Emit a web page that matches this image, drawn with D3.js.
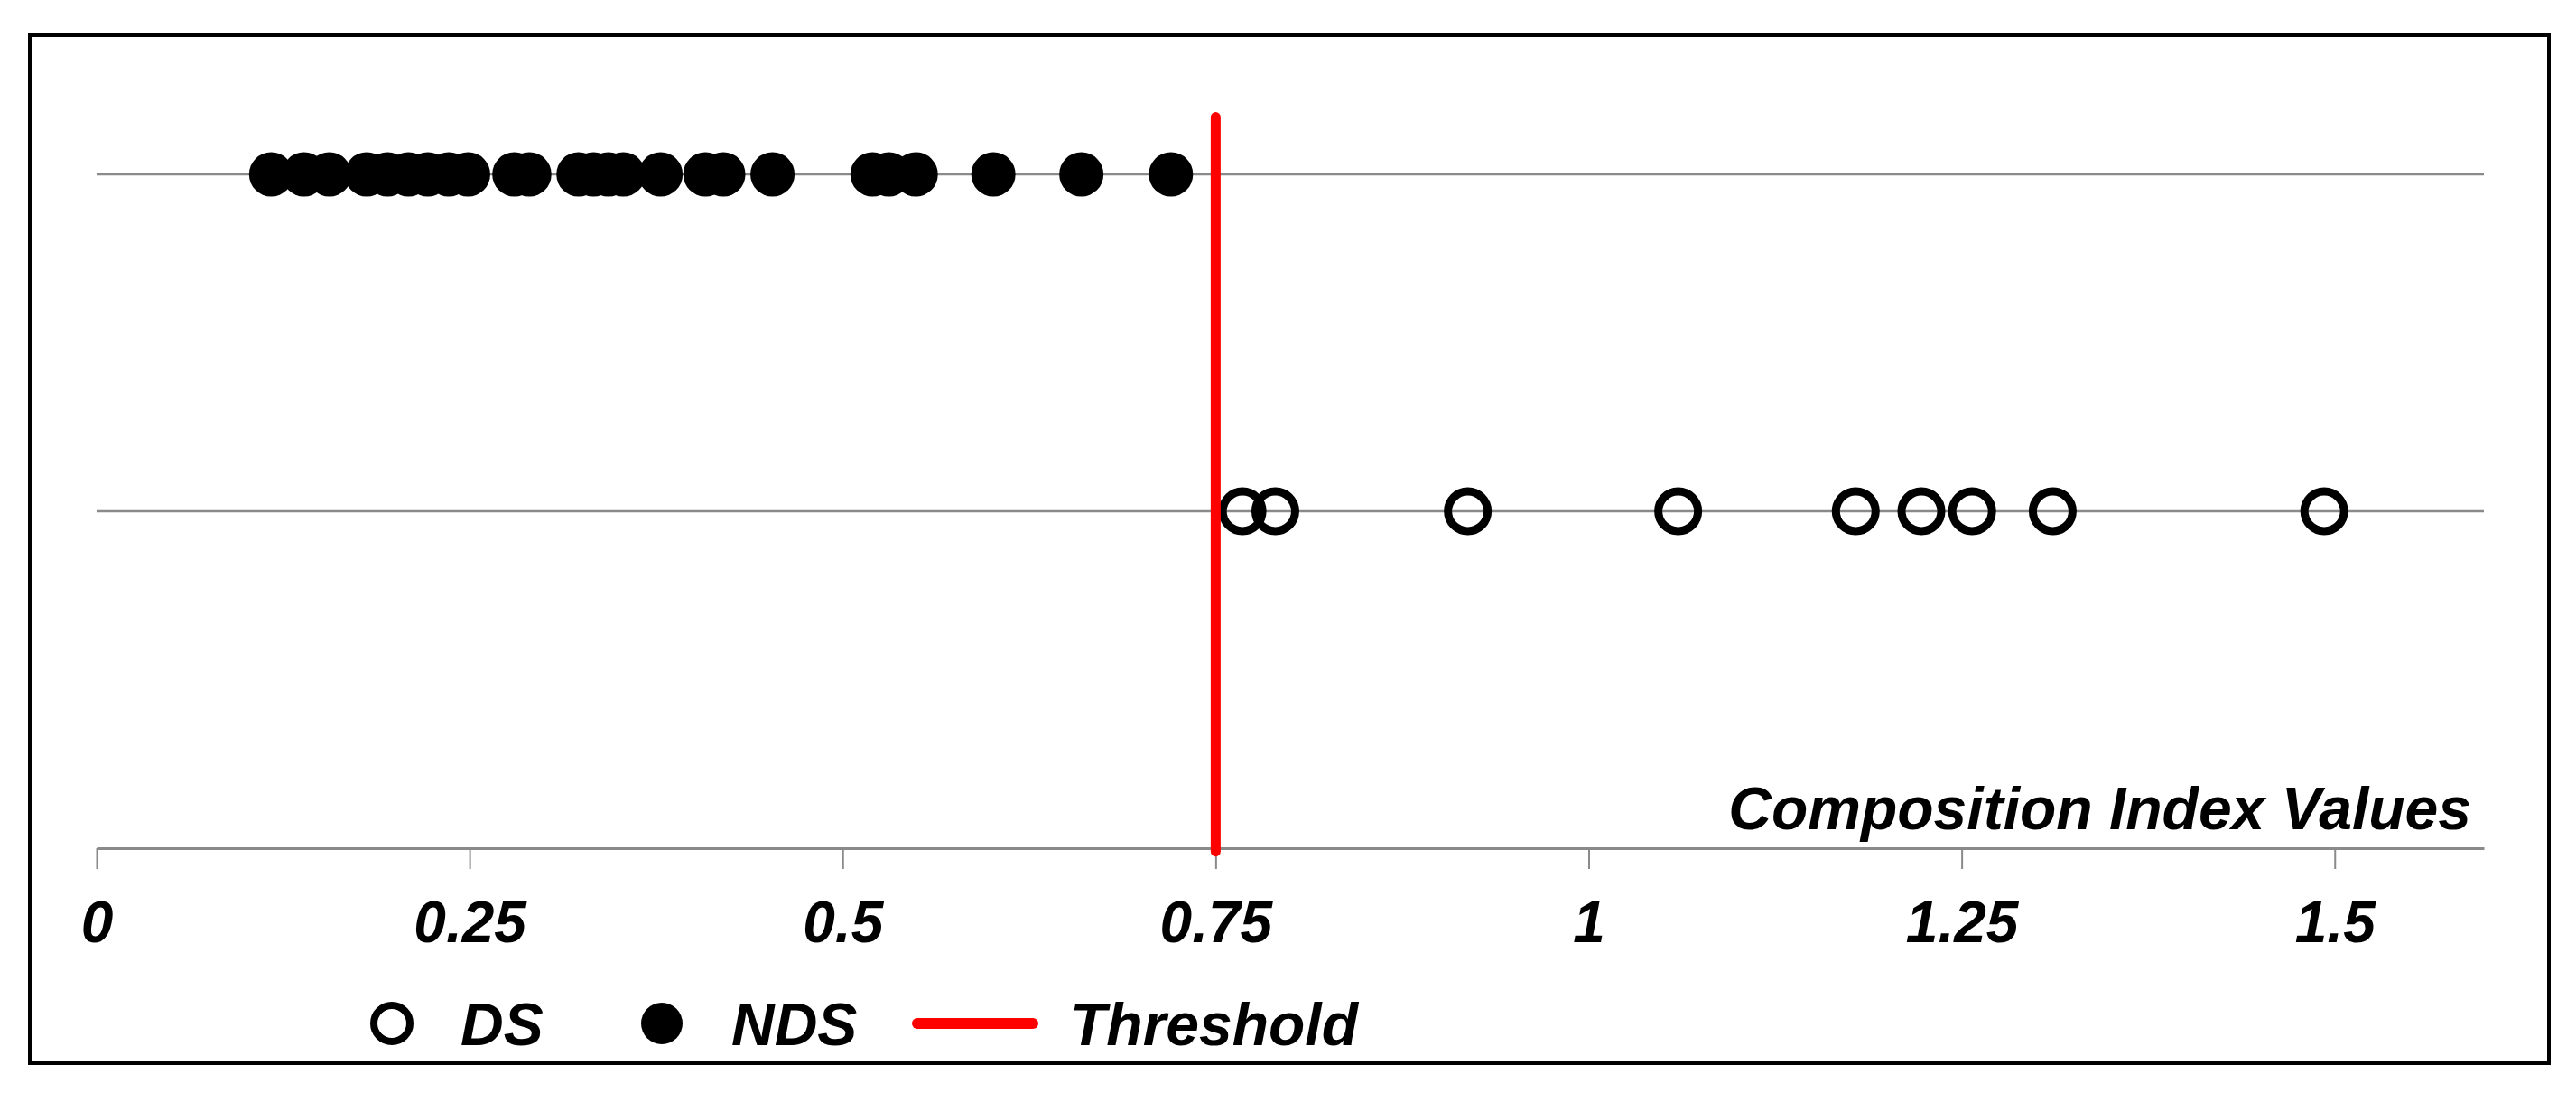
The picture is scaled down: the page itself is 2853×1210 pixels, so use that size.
<!DOCTYPE html>
<html>
<head>
<meta charset="utf-8">
<script src="https://cdn.jsdelivr.net/npm/d3@7"></script>
<style>
  html, body { margin: 0; padding: 0; background: #fff; }
  svg { display: block; }
  text { font-family: "Liberation Sans", Arial, Helvetica, sans-serif; font-weight: bold; font-style: italic; fill: #000; }
</style>
</head>
<body>
<svg id="chart" width="2853" height="1210"></svg>
<script>
// ---- data ----
const ndsValues = [0.117, 0.139, 0.156, 0.181, 0.195, 0.209, 0.222, 0.236, 0.249,
                   0.280, 0.290, 0.323, 0.333, 0.343, 0.353, 0.378, 0.408, 0.420,
                   0.453, 0.520, 0.531, 0.549, 0.601, 0.660, 0.720];
const dsValues = [0.768, 0.790, 0.919, 1.060, 1.179, 1.223, 1.257, 1.311, 1.493];
const thresholdValue = 0.75;
const seriesNames = ["DS", "NDS", "Threshold"];
const rowLevels = { DS: 1, NDS: 2 };
const tickValues = [0, 0.25, 0.5, 0.75, 1, 1.25, 1.5];
const tickLabels = ["0", "0.25", "0.5", "0.75", "1", "1.25", "1.5"];
const axisTitle = "Composition Index Values";

// ---- layout ----
const svg = d3.select("#chart");
const W = 2853, H = 1210;
svg.append("rect").attr("width", W).attr("height", H).attr("fill", "#fff");

const x = d3.scaleLinear().domain([0, 1.6]).range([107, 2751]);
const y = d3.scaleLinear().domain([0, 2]).range([939, 193]);

// frame
svg.append("rect")
  .attr("x", 33).attr("y", 39).attr("width", 2790).attr("height", 1138)
  .attr("fill", "none").attr("stroke", "#000").attr("stroke-width", 4);

// row lines
svg.append("g").selectAll("line")
  .data([rowLevels.NDS, rowLevels.DS])
  .join("line")
  .attr("x1", x.range()[0]).attr("x2", x.range()[1])
  .attr("y1", d => y(d)).attr("y2", d => y(d))
  .attr("stroke", "#8a8a8a").attr("stroke-width", 2.5);

// x axis
const axis = d3.axisBottom(x)
  .tickValues(tickValues)
  .tickFormat((d, i) => tickLabels[i])
  .tickSize(23)
  .tickSizeOuter(0)
  .tickPadding(36);
const ax = svg.append("g").attr("transform", `translate(0,${y(0)})`).call(axis);
ax.select(".domain").attr("stroke", "#8a8a8a").attr("stroke-width", 3);
ax.selectAll(".tick line").attr("stroke", "#8a8a8a").attr("stroke-width", 2);
ax.selectAll(".tick text")
  .attr("font-size", 64)
  .attr("font-family", "'Liberation Sans', Arial, sans-serif")
  .attr("font-weight", "bold").attr("font-style", "italic")
  .attr("fill", "#000");

// axis title
svg.append("text")
  .attr("x", 2737).attr("y", 918)
  .attr("text-anchor", "end")
  .attr("font-size", 66)
  .text(axisTitle);

// NDS points (filled)
svg.append("g").selectAll("circle")
  .data(ndsValues)
  .join("circle")
  .attr("cx", d => x(d)).attr("cy", y(rowLevels.NDS))
  .attr("r", 24.5).attr("fill", "#000");

// DS points (open)
svg.append("g").selectAll("circle")
  .data(dsValues)
  .join("circle")
  .attr("cx", d => x(d)).attr("cy", y(rowLevels.DS))
  .attr("r", 22).attr("fill", "none")
  .attr("stroke", "#000").attr("stroke-width", 9);

// threshold line
svg.append("line")
  .attr("x1", x(thresholdValue)).attr("x2", x(thresholdValue))
  .attr("y1", y(2.17)).attr("y2", y(-0.01))
  .attr("stroke", "#ff0000").attr("stroke-width", 11)
  .attr("stroke-linecap", "round");

// legend
const lg = svg.append("g");
const ly = 1133;
lg.append("circle").attr("cx", 434).attr("cy", ly).attr("r", 20)
  .attr("fill", "none").attr("stroke", "#000").attr("stroke-width", 8);
lg.append("text").attr("x", 510).attr("y", 1157).attr("font-size", 66).text(seriesNames[0]);
lg.append("circle").attr("cx", 733).attr("cy", ly).attr("r", 23).attr("fill", "#000");
lg.append("text").attr("x", 810).attr("y", 1157).attr("font-size", 66).text(seriesNames[1]);
lg.append("line").attr("x1", 1016).attr("x2", 1144).attr("y1", ly).attr("y2", ly)
  .attr("stroke", "#ff0000").attr("stroke-width", 12).attr("stroke-linecap", "round");
lg.append("text").attr("x", 1185).attr("y", 1157).attr("font-size", 66).text(seriesNames[2]);
</script>
</body>
</html>
